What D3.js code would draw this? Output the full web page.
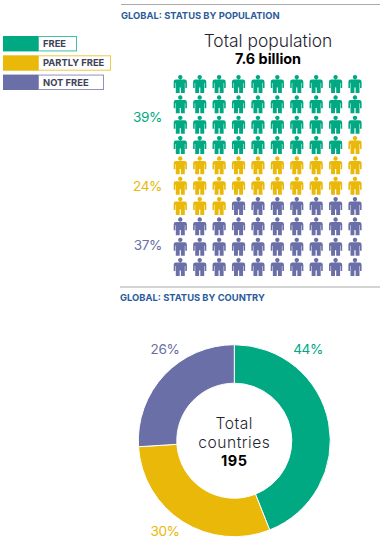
<!DOCTYPE html>
<html>
<head>
<meta charset="utf-8">
<script src="https://cdn.jsdelivr.net/npm/d3@7"></script>
<style>
  html, body { margin: 0; padding: 0; background: #fff; }
  svg { display: block; }
  text { font-family: Inter, Roboto, sans-serif; }
</style>
</head>
<body>
<div id="chart"></div>
<script>
const categories = ["FREE", "PARTLY FREE", "NOT FREE"];
const colors = ["#00a982", "#e9b808", "#6a6fa7"];
const populationShare = [39, 24, 37];
const countryShare = [44, 30, 26];

const width = 388, height = 540;

const svg = d3.select("#chart")
  .append("svg")
    .attr("width", width)
    .attr("height", height);

// section headers
const headers = [
  { label: "GLOBAL: STATUS BY POPULATION", x: 121, rule: 4.5, y: 19 },
  { label: "GLOBAL: STATUS BY COUNTRY", x: 120, rule: 287, y: 301 }
];
svg.selectAll(".rule")
  .data(headers)
  .join("line")
    .attr("class", "rule")
    .attr("x1", d => d.x)
    .attr("x2", 380)
    .attr("y1", d => d.rule)
    .attr("y2", d => d.rule)
    .attr("stroke", "#aaaaaa")
    .attr("stroke-width", 1.2);
svg.selectAll(".header")
  .data(headers)
  .join("text")
    .attr("class", "header")
    .attr("x", d => d.x)
    .attr("y", d => d.y)
    .attr("font-size", 9.4)
    .attr("font-weight", 700)
    .attr("fill", "#2b5c9b")
    .text(d => d.label);

// legend
const legendY = d3.scaleBand().domain(categories).range([36, 90]).paddingInner(0.2);
const legendW = d3.scaleOrdinal().domain(categories).range([38, 72, 65]);
const legend = svg.selectAll(".legend")
  .data(categories)
  .join("g")
    .attr("class", "legend")
    .attr("transform", d => `translate(3,${legendY(d)})`);
legend.append("rect")
  .attr("x", 35.5)
  .attr("y", 0.5)
  .attr("width", d => legendW(d))
  .attr("height", legendY.bandwidth() - 1)
  .attr("fill", "#fff")
  .attr("stroke", (d, i) => colors[i])
  .attr("stroke-opacity", 0.75);
legend.append("rect")
  .attr("width", 35)
  .attr("height", legendY.bandwidth())
  .attr("fill", (d, i) => colors[i]);
legend.append("text")
  .attr("x", 40)
  .attr("y", legendY.bandwidth() / 2 + 3.4)
  .attr("font-size", 9.4)
  .attr("font-weight", 700)
  .attr("fill", "#3c4257")
  .text(d => d);

// population waffle
svg.append("text")
  .attr("x", 268)
  .attr("y", 47)
  .attr("text-anchor", "middle")
  .attr("font-size", 17.4)
  .attr("font-weight", 300)
  .attr("fill", "#1f2530")
  .text("Total population");
svg.append("text")
  .attr("x", 268)
  .attr("y", 64)
  .attr("text-anchor", "middle")
  .attr("font-size", 14.4)
  .attr("font-weight", 700)
  .attr("fill", "#000")
  .text("7.6 billion");

const cols = d3.range(10), rows = d3.range(10);
const x = d3.scalePoint().domain(cols).range([180.3, 355]);
const y = d3.scalePoint().domain(rows).range([75, 258]);

// one entry per person, filled row by row
const people = populationShare.flatMap((n, i) => d3.range(n).map(() => i));

const person = "M0,0a2.2,2.2 0 1 1 -0.01,0Z" +
  "M-4.4,4.6H4.4Q6.6,4.6 6.6,6.8V13H5V8H4.5V18H0.6V12.6H-0.6V18H-4.5V8H-5V13H-6.6V6.8Q-6.6,4.6 -4.4,4.6Z";

svg.append("g")
  .selectAll("path")
  .data(people)
  .join("path")
    .attr("d", person)
    .attr("transform", (d, i) => `translate(${x(i % 10)},${y(Math.floor(i / 10))})`)
    .attr("fill", d => colors[d]);

// share labels sit beside the rows, baseline
const popLabelY = [121.5, 191, 250];
svg.selectAll(".popLabel")
  .data(populationShare)
  .join("text")
    .attr("class", "popLabel")
    .attr("x", 162)
    .attr("y", (d, i) => popLabelY[i])
    .attr("text-anchor", "end")
    .attr("font-size", 13.6)
    .attr("letter-spacing", -0.4)
    .attr("font-weight", 400)
    .attr("fill", (d, i) => colors[i])
    .text(d => d + "%");

// country donut
const cx = 234.3, cy = 440.7, outerR = 96, innerR = 57.5;
const pie = d3.pie().sort(null).value(d => d);
const arc = d3.arc().innerRadius(innerR).outerRadius(outerR);
const donut = svg.append("g").attr("transform", `translate(${cx},${cy})`);
donut.selectAll("path")
  .data(pie(countryShare))
  .join("path")
    .attr("d", arc)
    .attr("fill", (d, i) => colors[i])
    .attr("stroke", "#fff")
    .attr("stroke-width", 1);

const donutLabels = [[308, 354], [165, 536], [165, 354]];
svg.selectAll(".countryLabel")
  .data(countryShare)
  .join("text")
    .attr("class", "countryLabel")
    .attr("x", (d, i) => donutLabels[i][0])
    .attr("y", (d, i) => donutLabels[i][1])
    .attr("text-anchor", "middle")
    .attr("font-size", 13.6)
    .attr("letter-spacing", -0.4)
    .attr("font-weight", 400)
    .attr("fill", (d, i) => colors[i])
    .text(d => d + "%");

// centre text, spaced so the lines keep clear of each other
const centre = [
  { label: "Total", y: -12, size: 15.6, weight: 300, spacing: 0.5, fill: "#1f2530" },
  { label: "countries", y: 7, size: 15.6, weight: 300, spacing: 0.5, fill: "#1f2530" },
  { label: "195", y: 25, size: 14.5, weight: 700, spacing: 0.5, fill: "#000" }
];
donut.selectAll(".centre")
  .data(centre)
  .join("text")
    .attr("class", "centre")
    .attr("y", d => d.y)
    .attr("text-anchor", "middle")
    .attr("font-size", d => d.size)
    .attr("font-weight", d => d.weight)
    .attr("letter-spacing", d => d.spacing)
    .attr("fill", d => d.fill)
    .text(d => d.label);
</script>
</body>
</html>
